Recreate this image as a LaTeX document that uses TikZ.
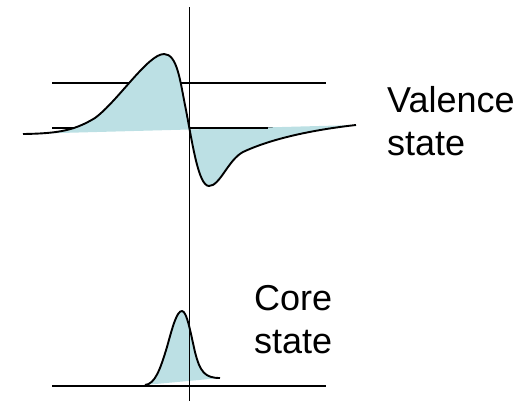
\documentclass[tikz,border=0pt]{standalone}
\usepackage{fontspec}
\setmainfont{Liberation Sans}
\definecolor{lobeblue}{RGB}{188,224,228}

% valence wave function, pixel coordinates
\newcommand{\valencewave}{(23,134) .. controls (60,133.5) and (75,130) .. (95,118)
    .. controls (118,101) and (148,54) .. (164,54)
    .. controls (177,54) and (180,80) .. (185,105)
    .. controls (192,140) and (198,186) .. (209,186)
    .. controls (220,186) and (228,160) .. (243,152)
    .. controls (275,137) and (320,129) .. (356,125)}
% core wave function
\newcommand{\corewave}{(145,385) .. controls (155,384) and (160,370) .. (167,347)
    .. controls (173,325) and (177,311) .. (182,311)
    .. controls (187,311) and (191,335) .. (195,352)
    .. controls (200,372) and (205,378) .. (220,378)}

\begin{document}
\begin{tikzpicture}[x=1pt, y=-1pt,
    axis/.style={black, line width=1.6pt},
    wave/.style={black, line width=1.9pt, line join=round},
    lobe/.style={fill=lobeblue},
    statetext/.style={font=\fontsize{36}{43}\selectfont, align=left, inner sep=0pt, anchor=base west}
]
    \useasboundingbox (0,0) rectangle (529,402);

    % levels
    \draw[axis] (52,83) -- (326,83);
    \draw[axis] (52,128) -- (326,128);
    \draw[axis] (52,386) -- (326,386);

    % shaded lobes
    \fill[lobe] \valencewave -- cycle;
    \fill[lobe] \corewave -- cycle;
    \draw[axis] (189.5,128) -- (268,128);

    % vertical axis
    \draw[axis] (189.5,7) -- (189.5,401);

    % curves
    \draw[wave] \valencewave;
    \draw[wave] \corewave;

    \node[statetext] (valence) at (387,155) {Valence\\state};
    \node[statetext] (core) at (254,353) {Core\\state};
\end{tikzpicture}
\end{document}
